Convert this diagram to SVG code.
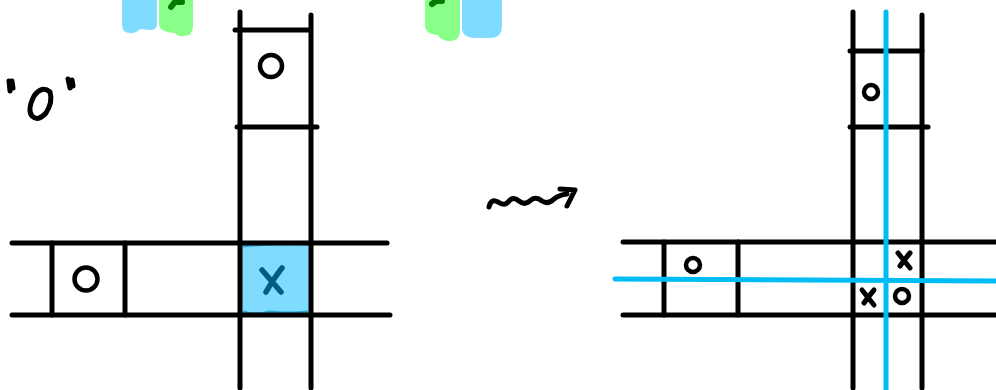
<svg xmlns="http://www.w3.org/2000/svg" width="996" height="390" viewBox="0 0 996 390">
<style>
.k{stroke:#000;stroke-width:5;stroke-linecap:round;fill:none}
.c{stroke:#000;stroke-width:4.5;fill:none}
.b{stroke:#00bcf5;stroke-width:5;stroke-linecap:round;fill:none}
</style>
<rect width="996" height="390" fill="#fff"/>
<!-- top blobs left -->
<path d="M122,0 H157 V24 Q157,30 150,30 L140,29 Q135,34 130,33 Q122,33 122,24 Z" fill="#80dcff"/>
<path d="M159,0 H193 V26 Q193,36 184,36 Q178,37 175,33 Q159,32 159,24 Z" fill="#88ff88"/>
<path d="M171,7 L175,2 L182,2" stroke="#007a00" stroke-width="6" stroke-linecap="round" fill="none"/>
<!-- top blobs middle -->
<path d="M425,0 H460 V30 Q460,41 450,41 Q441,41 438,35 Q425,34 425,25 Z" fill="#88ff88"/>
<path d="M432,4 L436,1 L442,1" stroke="#007a00" stroke-width="6" stroke-linecap="round" fill="none"/>
<path d="M462,0 H502 V26 Q502,38 490,38 H475 Q464,38 462,30 Z" fill="#80dcff"/>
<!-- "O" label -->
<g id="label-o">
<path d="M9,81 L10,91 M12,81 L13,88" class="k" stroke-width="5"/>
<path d="M68,79 L70,88 M72,80 L73,86" class="k" stroke-width="5"/>
<path d="M50,92 Q42,85 34,96 Q27,110 32,116 Q38,122 46,113 Q53,102 50,92 Z" class="k" stroke-width="5"/>
</g>
<!-- left board -->
<g id="left-board">
<rect x="242" y="244" width="67" height="70" fill="#80dcff"/>
<path d="M243,246 Q270,243 308,244 M243,312 Q255,316 270,312 Q290,314 308,312" stroke="#2aa8d4" stroke-width="3" fill="none"/>
<line x1="12" y1="243" x2="387" y2="243" class="k"/>
<line x1="12" y1="315" x2="390" y2="315" class="k"/>
<line x1="52" y1="243" x2="52" y2="315" class="k"/>
<line x1="125" y1="243" x2="125" y2="315" class="k"/>
<line x1="240" y1="12" x2="240" y2="388" class="k"/>
<line x1="311" y1="15" x2="311" y2="388" class="k"/>
<line x1="235" y1="30" x2="309" y2="30" class="k"/>
<line x1="237" y1="127" x2="317" y2="127" class="k"/>
<circle cx="86" cy="279" r="11.5" class="c"/>
<circle cx="271" cy="66" r="11" class="c"/>
<path d="M262,270 L281,292 M282,268 Q274,278 266,292" stroke="#005f7f" stroke-width="5.5" stroke-linecap="round" fill="none"/>
</g>
<!-- squiggle arrow -->
<g id="arrow">
<path d="M489,207 Q491,198 498,202 Q505,207 509,201 Q513,196 519,201 Q525,206 531,200 Q536,196 542,201 Q548,205 554,199 Q559,195 567,194" class="k" stroke-width="6.5"/>
<path d="M560,189 L575,190 L567,206" class="k" stroke-width="6.5" stroke-linejoin="round"/>
</g>
<!-- right board -->
<g id="right-board">
<line x1="623" y1="242" x2="996" y2="242" class="k"/>
<line x1="623" y1="315" x2="996" y2="315" class="k"/>
<line x1="664" y1="242" x2="664" y2="315" class="k"/>
<line x1="738" y1="242" x2="738" y2="315" class="k"/>
<line x1="853" y1="12" x2="853" y2="388" class="k"/>
<line x1="922" y1="15" x2="922" y2="388" class="k"/>
<line x1="850" y1="51" x2="922" y2="51" class="k"/>
<line x1="850" y1="127" x2="928" y2="127" class="k"/>
<circle cx="693" cy="265" r="7" class="c"/>
<circle cx="871" cy="92" r="7" class="c"/>
<circle cx="902" cy="296" r="7" class="c"/>
<path d="M898,253 L910,268 M910,253 Q904,260 900,266" class="k" stroke-width="5"/>
<path d="M862,290 L874,305 M874,290 Q868,297 864,303" class="k" stroke-width="5"/>
<line x1="886" y1="12" x2="886" y2="390" class="b"/>
<line x1="615" y1="279" x2="996" y2="281" class="b"/>
</g>
</svg>
